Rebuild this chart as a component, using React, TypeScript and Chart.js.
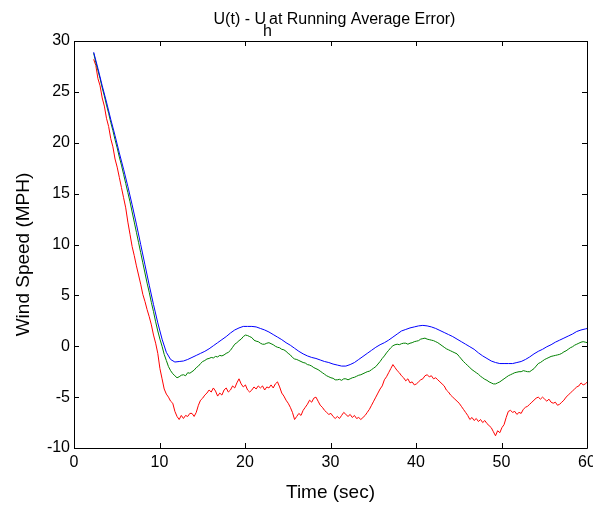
import { useEffect, useRef } from "react";
import { Chart, registerables } from "chart.js";

Chart.register(...registerables);

// Records start at 2.3 s; blue is stored every 0.5 s, green and red every 0.25 s
const T_START = 2.3;
const COARSE_STEP = 0.5;
const FINE_STEP = 0.25;

// Blue trace (0.5 s samples)
const BLUE = [
  28.9, 27.3, 25.6, 24.0, 22.3, 20.7, 19.0, 17.4, 15.7, 13.9,
  12.0, 10.0, 8.0, 6.0, 4.1, 2.3, 0.7, -0.6, -1.3, -1.55,
  -1.5, -1.45, -1.3, -1.1, -0.9, -0.7, -0.5, -0.25, 0.05, 0.35,
  0.65, 0.95, 1.3, 1.6, 1.8, 1.95, 1.95, 1.95, 1.9, 1.75,
  1.6, 1.4, 1.15, 0.9, 0.65, 0.35, 0.1, -0.2, -0.5, -0.75,
  -0.95, -1.1, -1.2, -1.35, -1.5, -1.6, -1.75, -1.85, -1.95, -1.95,
  -1.8, -1.6, -1.3, -1.0, -0.7, -0.4, -0.1, 0.15, 0.35, 0.6,
  0.9, 1.2, 1.5, 1.65, 1.8, 1.9, 2.0, 2.05, 2.0, 1.9,
  1.75, 1.55, 1.35, 1.15, 0.95, 0.7, 0.45, 0.2, -0.05, -0.3,
  -0.65, -0.95, -1.2, -1.45, -1.6, -1.7, -1.7, -1.7, -1.7, -1.6,
  -1.5, -1.3, -1.05, -0.75, -0.5, -0.3, -0.05, 0.15, 0.4, 0.6,
  0.8, 1.0, 1.2, 1.45, 1.6, 1.7, 1.8,
];

// Green trace (0.25 s samples, 2 s per row)
const GREEN = [
  28.8, 27.9, 27.1, 26.3, 25.4, 24.6, 23.7, 22.9,
  22.0, 21.2, 20.3, 19.5, 18.6, 17.8, 16.9, 16.0,
  15.1, 14.2, 13.2, 12.2, 11.2, 10.2, 9.2, 8.2,
  7.2, 6.2, 5.3, 4.3, 3.4, 2.4, 1.5, 0.7,
  0.0, -0.8, -1.4, -2.0, -2.4, -2.7, -2.9, -3.1,
  -3.0, -2.85, -2.8, -2.9, -2.6, -2.65, -2.5, -2.35,
  -2.1, -1.95, -1.7, -1.5, -1.4, -1.25, -1.2, -1.1,
  -1.15, -1.0, -1.05, -0.9, -0.95, -0.85, -0.7, -0.6,
  -0.4, -0.1, 0.2, 0.35, 0.55, 0.7, 0.95, 1.1,
  1.05, 0.95, 0.85, 0.6, 0.5, 0.45, 0.3, 0.2,
  0.2, 0.3, 0.35, 0.25, 0.15, 0.0, -0.1, -0.15,
  -0.3, -0.35, -0.5, -0.7, -0.85, -1.1, -1.25, -1.3,
  -1.4, -1.5, -1.6, -1.65, -1.8, -1.85, -1.95, -2.1,
  -2.2, -2.3, -2.45, -2.6, -2.75, -2.9, -3.0, -3.1,
  -3.15, -3.3, -3.3, -3.25, -3.35, -3.2, -3.2, -3.3,
  -3.2, -3.1, -3.05, -2.95, -2.85, -2.8, -2.7, -2.6,
  -2.5, -2.45, -2.3, -2.15, -2.0, -1.75, -1.5, -1.2,
  -0.95, -0.65, -0.4, -0.15, 0.05, 0.15, 0.2, 0.15,
  0.25, 0.3, 0.3, 0.2, 0.3, 0.35, 0.45, 0.5,
  0.55, 0.7, 0.75, 0.8, 0.7, 0.65, 0.6, 0.55,
  0.45, 0.35, 0.2, 0.05, -0.1, -0.25, -0.35, -0.45,
  -0.55, -0.65, -0.75, -1.0, -1.25, -1.5, -1.7, -1.9,
  -2.1, -2.3, -2.45, -2.6, -2.75, -2.95, -3.1, -3.25,
  -3.35, -3.5, -3.6, -3.7, -3.7, -3.6, -3.5, -3.35,
  -3.2, -3.05, -2.9, -2.8, -2.7, -2.6, -2.55, -2.5,
  -2.5, -2.4, -2.45, -2.5, -2.5, -2.35, -2.2, -1.95,
  -1.7, -1.6, -1.45, -1.3, -1.2, -1.1, -1.0, -0.95,
  -0.9, -0.85, -0.8, -0.7, -0.55, -0.45, -0.3, -0.15,
  -0.05, 0.1, 0.2, 0.3, 0.4, 0.45, 0.4, 0.35,
  0.35,
];

// Red trace (0.25 s samples, 2 s per row)
const RED = [
  28.2, 27.6, 26.3, 25.6, 24.4, 23.6, 22.4, 21.6,
  20.4, 19.6, 18.4, 17.6, 16.6, 15.6, 14.6, 13.6,
  12.2, 11.0, 9.8, 8.9, 7.9, 7.0, 6.1, 5.1,
  4.4, 3.6, 2.9, 2.1, 1.1, 0.3, -0.7, -2.2,
  -3.2, -4.2, -4.7, -5.0, -5.4, -5.6, -6.4, -6.9,
  -7.2, -6.8, -7.1, -6.8, -6.9, -6.6, -6.6, -6.9,
  -6.5, -5.8, -5.3, -5.1, -4.8, -4.6, -4.3, -4.5,
  -4.1, -4.4, -4.9, -4.6, -4.8, -4.3, -4.1, -4.5,
  -4.3, -3.9, -4.1, -3.6, -3.2, -3.7, -4.0, -3.8,
  -4.3, -4.5, -4.3, -4.0, -4.2, -3.9, -4.1, -3.9,
  -4.3, -4.0, -4.1, -3.8, -4.1, -3.7, -3.5, -4.0,
  -4.6, -4.9, -5.3, -5.6, -6.0, -6.5, -7.2, -6.9,
  -6.6, -6.8, -6.3, -6.0, -5.7, -5.3, -5.5, -5.1,
  -5.0, -5.4, -5.8, -6.0, -6.3, -6.5, -6.7, -6.6,
  -6.9, -7.1, -6.9, -7.1, -6.8, -6.5, -6.7, -6.9,
  -6.7, -7.0, -6.8, -7.1, -7.0, -7.2, -7.0, -6.8,
  -6.5, -6.2, -5.8, -5.4, -5.0, -4.6, -4.2, -3.9,
  -3.3, -3.0, -2.6, -2.2, -1.8, -2.1, -2.4, -2.6,
  -2.9, -3.1, -3.4, -3.2, -3.6, -3.5, -3.8, -3.7,
  -3.5, -3.3, -3.2, -2.9, -2.8, -3.0, -2.9, -3.2,
  -3.1, -3.3, -3.5, -3.7, -3.9, -4.3, -4.5, -4.8,
  -5.0, -5.2, -5.4, -5.6, -5.9, -6.2, -6.5, -6.8,
  -7.2, -7.0, -7.3, -7.1, -7.4, -7.2, -7.5, -7.3,
  -7.6, -7.8, -8.0, -8.4, -8.8, -8.3, -8.5, -8.0,
  -7.7, -7.0, -6.4, -6.3, -6.5, -6.4, -6.7, -6.5,
  -6.6, -6.2, -6.0, -5.9, -5.7, -5.5, -5.3, -5.1,
  -5.0, -5.2, -5.0, -5.2, -5.4, -5.2, -5.5, -5.6,
  -5.5, -5.8, -5.7, -5.5, -5.3, -5.0, -4.8, -4.6,
  -4.4, -4.2, -4.0, -3.9, -3.6, -3.8, -3.7, -3.5,
  -3.6,
];

const X_MIN = 0;
const X_MAX = 60;
const X_STEP = 10;
const Y_MIN = -10;
const Y_MAX = 30;
const Y_STEP = 5;

const TITLE_LEAD = "U(t) - U";
const TITLE_SUB = "h";
const TITLE_TAIL = "at Running Average Error)";
const X_LABEL = "Time (sec)";
const Y_LABEL = "Wind Speed (MPH)";

const FONT = "'Liberation Sans', Arial, Helvetica, sans-serif";

const toPoints = (ys: number[], step: number) =>
  ys.map((y, i) => ({ x: +(T_START + i * step).toFixed(2), y }));

// Box frame with inward ticks on all four sides, plus title and axis labels
const framePlugin = {
  id: "frame",
  afterDraw(chart: any) {
    const { ctx, chartArea: a, scales } = chart;
    const xs = scales.x;
    const ys = scales.y;
    const tick = 5;
    ctx.save();
    ctx.strokeStyle = "#000";
    ctx.lineWidth = 1;
    ctx.beginPath();
    ctx.rect(Math.round(a.left) + 0.5, Math.round(a.top) + 0.5,
      Math.round(a.right - a.left), Math.round(a.bottom - a.top));
    for (let v = X_MIN; v <= X_MAX; v += X_STEP) {
      const px = Math.round(xs.getPixelForValue(v)) + 0.5;
      ctx.moveTo(px, a.bottom);
      ctx.lineTo(px, a.bottom - tick);
      ctx.moveTo(px, a.top);
      ctx.lineTo(px, a.top + tick);
    }
    for (let v = Y_MIN; v <= Y_MAX; v += Y_STEP) {
      const py = Math.round(ys.getPixelForValue(v)) + 0.5;
      ctx.moveTo(a.left, py);
      ctx.lineTo(a.left + tick, py);
      ctx.moveTo(a.right, py);
      ctx.lineTo(a.right - tick, py);
    }
    ctx.stroke();

    ctx.fillStyle = "#000";
    // title with the subscripted letter
    ctx.font = `16px ${FONT}`;
    ctx.textBaseline = "alphabetic";
    ctx.textAlign = "left";
    const w1 = ctx.measureText(TITLE_LEAD).width;
    const w3 = ctx.measureText(TITLE_TAIL).width;
    const gap = 3;
    const cx = (a.left + a.right) / 2 + 4;
    const x0 = cx - (w1 + gap + w3) / 2;
    ctx.fillText(TITLE_LEAD, x0, 24);
    ctx.fillText(TITLE_SUB, x0 + w1 - 3, 36);
    ctx.fillText(TITLE_TAIL, x0 + w1 + gap, 24);

    // axis labels
    ctx.font = `19px ${FONT}`;
    ctx.textAlign = "center";
    ctx.textBaseline = "middle";
    ctx.fillText(X_LABEL, (a.left + a.right) / 2, 493);
    ctx.translate(24, (a.top + a.bottom) / 2 + 10);
    ctx.rotate(-Math.PI / 2);
    ctx.fillText(Y_LABEL, 0, 0);
    ctx.restore();
  },
};

export default function App() {
  const ref = useRef<HTMLCanvasElement>(null);

  useEffect(() => {
    if (!ref.current) return;
    Chart.defaults.font.family = FONT;
    const chart = new Chart(ref.current, {
      type: "line",
      data: {
        datasets: [
          { data: toPoints(BLUE, COARSE_STEP), borderColor: "#0000ff" },
          { data: toPoints(GREEN, FINE_STEP), borderColor: "#008000" },
          { data: toPoints(RED, FINE_STEP), borderColor: "#ff0000" },
        ],
      },
      options: {
        animation: false,
        responsive: false,
        devicePixelRatio: 1,
        parsing: false as any,
        elements: {
          line: { borderWidth: 1, tension: 0 },
          point: { radius: 0 },
        },
        layout: { padding: { top: 41, right: 6, left: 0, bottom: 0 } },
        plugins: {
          legend: { display: false },
          title: { display: false },
          tooltip: { enabled: false },
        },
        scales: {
          x: {
            type: "linear",
            min: X_MIN,
            max: X_MAX,
            ticks: { stepSize: X_STEP, color: "#000", font: { size: 16 }, padding: 5, maxRotation: 0 },
            grid: { display: false, drawTicks: false },
            border: { display: false },
            afterFit: (s: any) => {
              s.height = 58;
              s.paddingLeft = 0;
              s.paddingRight = 0;
            },
          },
          y: {
            type: "linear",
            min: Y_MIN,
            max: Y_MAX,
            ticks: { stepSize: Y_STEP, color: "#000", font: { size: 16 }, padding: 4 },
            grid: { display: false, drawTicks: false },
            border: { display: false },
            afterFit: (s: any) => {
              s.width = 74;
              s.paddingTop = 0;
              s.paddingBottom = 0;
            },
          },
        },
      },
      plugins: [framePlugin],
    });
    return () => chart.destroy();
  }, []);

  return (
    <div style={{ position: "absolute", left: 0, top: 0, width: 593, height: 506, background: "#fff" }}>
      <canvas ref={ref} width={593} height={506} style={{ display: "block" }} />
    </div>
  );
}
